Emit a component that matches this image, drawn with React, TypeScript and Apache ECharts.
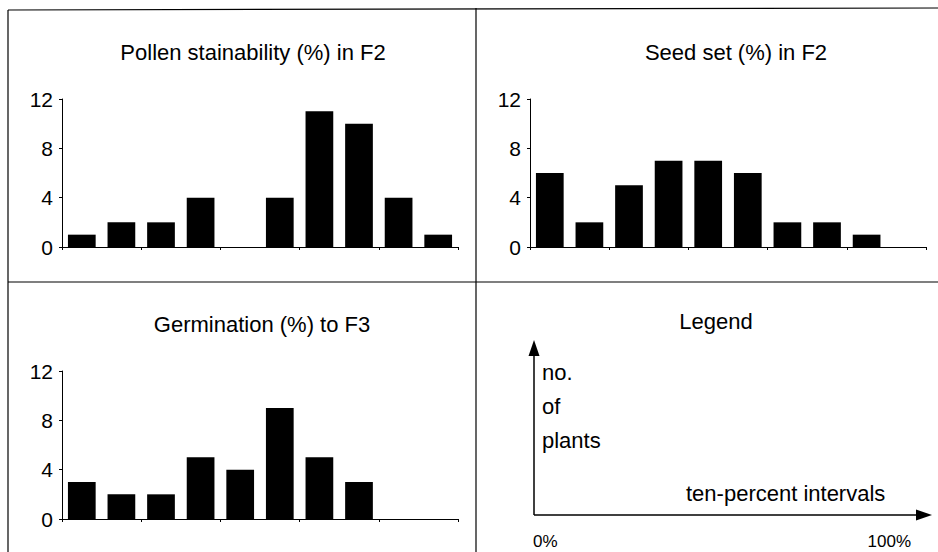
import React, { useEffect, useRef } from "react";
import * as echarts from "echarts";

const categories = ["0-10", "10-20", "20-30", "30-40", "40-50", "50-60", "60-70", "70-80", "80-90", "90-100"];
const pollenValues = [1, 2, 2, 4, 0, 4, 11, 10, 4, 1];
const seedValues = [6, 2, 5, 7, 7, 6, 2, 2, 1, 0];
const germinationValues = [3, 2, 2, 5, 4, 9, 5, 3, 0, 0];
const yTicks = [0, 4, 8, 12];
const panelTitles = ["Pollen stainability (%) in F2", "Seed set (%) in F2", "Germination (%) to F3", "Legend"];
const legendYLabel = ["no.", "of", "plants"];
const legendXLabel = "ten-percent intervals";
const legendRange = ["0%", "100%"];

const FONT = "'Liberation Sans', Arial, Helvetica, sans-serif";

export default function App() {
  const ref = useRef<HTMLDivElement>(null);
  useEffect(() => {
    if (!ref.current) return;
    const chart = echarts.init(ref.current, null, { renderer: "svg" });
    const grids = [
      { left: 62, top: 99, width: 396, height: 148 },
      { left: 530, top: 99, width: 396, height: 148 },
      { left: 62, top: 371, width: 396, height: 148 },
    ];
    const seriesData = [pollenValues, seedValues, germinationValues];
    const axisLine = { show: true, lineStyle: { color: "#000", width: 1 } };
    const xAxis = grids.map((_, i) => ({
      type: "category",
      gridIndex: i,
      data: categories,
      boundaryGap: true,
      axisLine,
      axisTick: { show: true, length: 3, inside: false, lineStyle: { color: "#000" } },
      axisLabel: { show: false },
      splitLine: { show: false },
    }));
    const yAxis = grids.map((_, i) => ({
      type: "value",
      gridIndex: i,
      min: yTicks[0],
      max: yTicks[yTicks.length - 1],
      interval: yTicks[1] - yTicks[0],
      axisLine,
      axisTick: { show: true, length: 3, lineStyle: { color: "#000" } },
      axisLabel: { show: true, fontSize: 21, color: "#000", fontFamily: FONT, margin: 9 },
      splitLine: { show: false },
    }));
    const series = seriesData.map((d, i) => ({
      type: "bar",
      xAxisIndex: i,
      yAxisIndex: i,
      data: d,
      barCategoryGap: "30%",
      itemStyle: { color: "#000" },
      silent: true,
    }));
    const titleStyle = { fill: "#000", fontSize: 22, fontFamily: FONT, textAlign: "center", textVerticalAlign: "middle" };
    const legendText = { fill: "#000", fontSize: 22, fontFamily: FONT, textAlign: "left", textVerticalAlign: "middle" };
    const line = (x1: number, y1: number, x2: number, y2: number, w = 1.2) => ({
      type: "line",
      shape: { x1, y1, x2, y2 },
      style: { stroke: "#000", lineWidth: w },
      silent: true,
    });
    const graphic: any[] = [
      line(8, 10, 938, 8),
      line(8, 10, 8, 552),
      line(476, 8, 476, 552),
      line(8, 282, 938, 282),
      { type: "text", x: 253, y: 52, style: { ...titleStyle, text: panelTitles[0] } },
      { type: "text", x: 736, y: 52, style: { ...titleStyle, text: panelTitles[1] } },
      { type: "text", x: 262, y: 324, style: { ...titleStyle, text: panelTitles[2] } },
      { type: "text", x: 716, y: 321, style: { ...titleStyle, text: panelTitles[3] } },
      line(534, 515, 534, 350, 1.5),
      line(534, 515, 922, 515, 1.5),
      { type: "polygon", shape: { points: [[534, 340], [528.5, 356], [539.5, 356]] }, style: { fill: "#000" } },
      { type: "polygon", shape: { points: [[932, 515], [916, 509.5], [916, 520.5]] }, style: { fill: "#000" } },
      ...legendYLabel.map((t, i) => ({
        type: "text",
        x: 542,
        y: 372 + i * 34,
        style: { ...legendText, text: t },
      })),
      { type: "text", x: 686, y: 493, style: { ...legendText, text: legendXLabel } },
      { type: "text", x: 533, y: 541, style: { text: legendRange[0], fill: "#000", fontSize: 17, fontFamily: FONT, textAlign: "left", textVerticalAlign: "middle" } },
      { type: "text", x: 911, y: 541, style: { text: legendRange[1], fill: "#000", fontSize: 17, fontFamily: FONT, textAlign: "right", textVerticalAlign: "middle" } },
    ];
    chart.setOption({
      animation: false,
      backgroundColor: "#fff",
      grid: grids,
      xAxis,
      yAxis,
      series,
      graphic,
    });
    return () => chart.dispose();
  }, []);
  return <div ref={ref} style={{ width: 938, height: 552, position: "absolute", left: 0, top: 0 }} />;
}
